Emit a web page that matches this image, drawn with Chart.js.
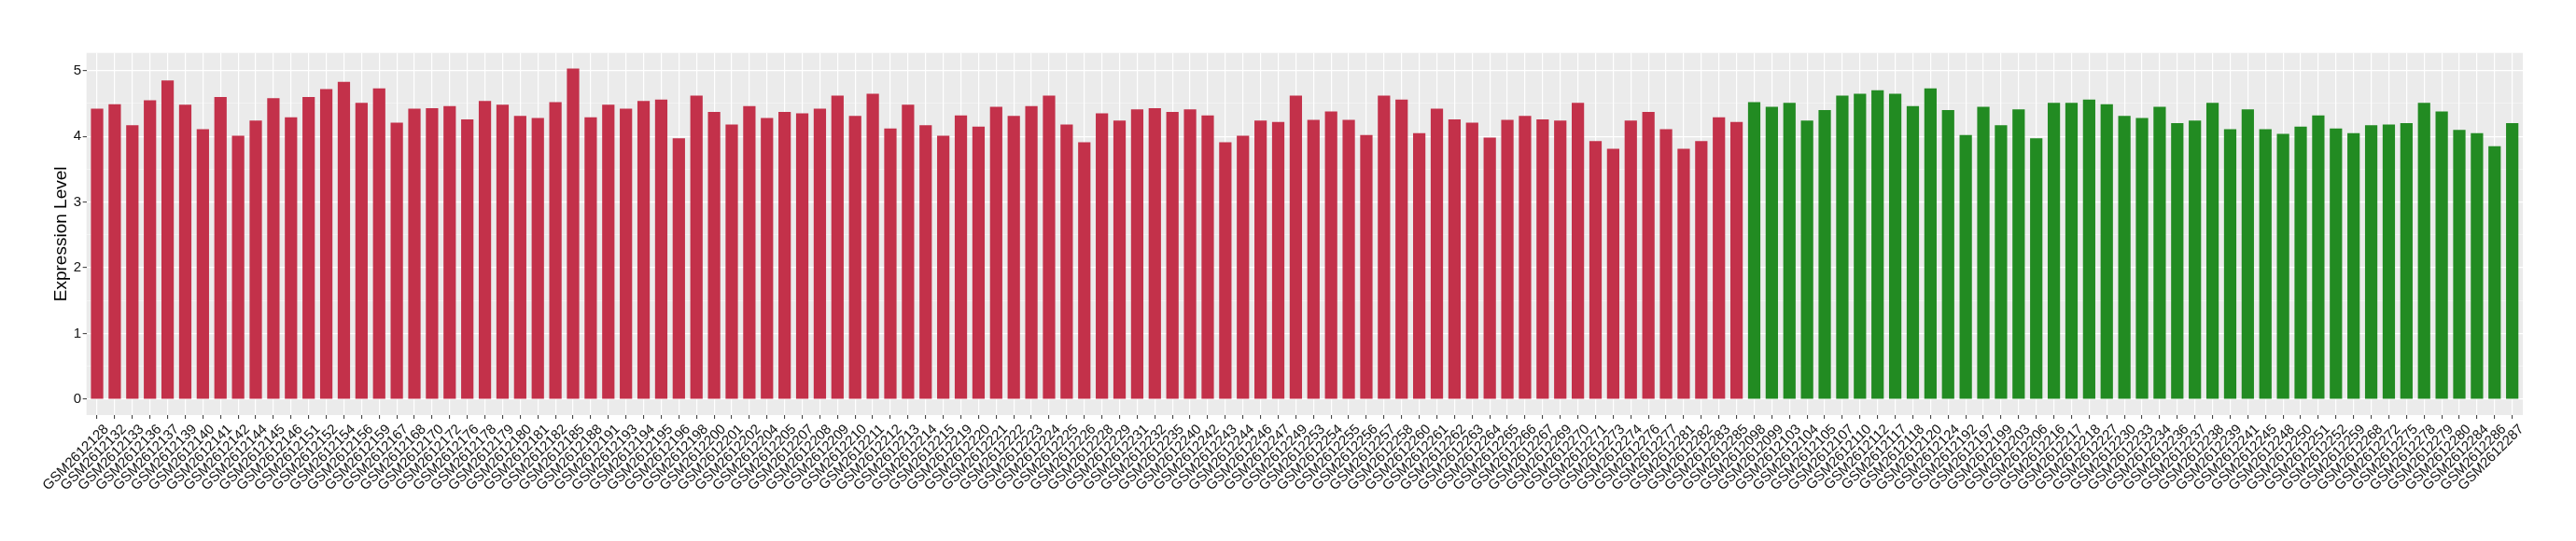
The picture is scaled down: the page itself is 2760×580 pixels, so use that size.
<!DOCTYPE html>
<html>
<head>
<meta charset="utf-8">
<script src="https://cdn.jsdelivr.net/npm/chart.js@4.4.1/dist/chart.umd.min.js"></script>
<style>
  html, body { margin: 0; padding: 0; background: #fff; }
  #wrap { width: 2760px; height: 580px; }
</style>
</head>
<body>
<div id="wrap"><canvas id="exprChart"></canvas></div>
<script>
/* ---- data ---- */
const redLabels = [
  'GSM2612128','GSM2612132','GSM2612133','GSM2612136','GSM2612137','GSM2612139','GSM2612140','GSM2612141','GSM2612142','GSM2612144',
  'GSM2612145','GSM2612146','GSM2612151','GSM2612152','GSM2612154','GSM2612156','GSM2612159','GSM2612167','GSM2612168','GSM2612170',
  'GSM2612172','GSM2612176','GSM2612178','GSM2612179','GSM2612180','GSM2612181','GSM2612182','GSM2612185','GSM2612188','GSM2612191',
  'GSM2612193','GSM2612194','GSM2612195','GSM2612196','GSM2612198','GSM2612200','GSM2612201','GSM2612202','GSM2612204','GSM2612205',
  'GSM2612207','GSM2612208','GSM2612209','GSM2612210','GSM2612211','GSM2612212','GSM2612213','GSM2612214','GSM2612215','GSM2612219',
  'GSM2612220','GSM2612221','GSM2612222','GSM2612223','GSM2612224','GSM2612225','GSM2612226','GSM2612228','GSM2612229','GSM2612231',
  'GSM2612232','GSM2612235','GSM2612240','GSM2612242','GSM2612243','GSM2612244','GSM2612246','GSM2612247','GSM2612249','GSM2612253',
  'GSM2612254','GSM2612255','GSM2612256','GSM2612257','GSM2612258','GSM2612260','GSM2612261','GSM2612262','GSM2612263','GSM2612264',
  'GSM2612265','GSM2612266','GSM2612267','GSM2612269','GSM2612270','GSM2612271','GSM2612273','GSM2612274','GSM2612276','GSM2612277',
  'GSM2612281','GSM2612282','GSM2612283','GSM2612285'
];
const redValues = [
  4.42,4.49,4.17,4.55,4.85,4.48,4.11,4.60,4.01,4.24,
  4.58,4.29,4.60,4.72,4.83,4.51,4.73,4.21,4.42,4.43,
  4.46,4.26,4.54,4.48,4.31,4.28,4.52,5.03,4.29,4.48,
  4.42,4.54,4.56,3.97,4.62,4.37,4.18,4.46,4.28,4.37,
  4.35,4.42,4.62,4.31,4.65,4.12,4.48,4.17,4.01,4.32,
  4.15,4.45,4.31,4.46,4.62,4.18,3.91,4.35,4.24,4.41,
  4.43,4.37,4.41,4.32,3.91,4.01,4.24,4.22,4.62,4.25,
  4.38,4.25,4.02,4.62,4.56,4.05,4.42,4.26,4.21,3.98,
  4.25,4.31,4.26,4.24,4.51,3.93,3.81,4.24,4.37,4.11,
  3.81,3.93,4.29,4.22
];
const greenLabels = [
  'GSM2612098','GSM2612099','GSM2612103','GSM2612104','GSM2612105','GSM2612107','GSM2612110','GSM2612112','GSM2612117','GSM2612118',
  'GSM2612120','GSM2612124','GSM2612192','GSM2612197','GSM2612199','GSM2612203','GSM2612206','GSM2612216','GSM2612217','GSM2612218',
  'GSM2612227','GSM2612230','GSM2612233','GSM2612234','GSM2612236','GSM2612237','GSM2612238','GSM2612239','GSM2612241','GSM2612245',
  'GSM2612248','GSM2612250','GSM2612251','GSM2612252','GSM2612259','GSM2612268','GSM2612272','GSM2612275','GSM2612278','GSM2612279',
  'GSM2612280','GSM2612284','GSM2612286','GSM2612287'
];
const greenValues = [
  4.52,4.45,4.51,4.24,4.40,4.62,4.65,4.70,4.65,4.46,
  4.73,4.40,4.02,4.45,4.17,4.41,3.97,4.51,4.51,4.56,
  4.49,4.31,4.28,4.45,4.20,4.24,4.51,4.11,4.41,4.11,
  4.04,4.15,4.32,4.12,4.05,4.17,4.18,4.20,4.51,4.38,
  4.10,4.05,3.85,4.20
];
const yTickLabels = [0, 1, 2, 3, 4, 5];

/* ---- build ---- */
const RED = '#C3314A';
const GREEN = '#228B22';
const allLabels = redLabels.concat(greenLabels);
const allValues = redValues.concat(greenValues);
const barColors = allLabels.map((_, i) => (i < redLabels.length ? RED : GREEN));
const points = allValues.map((v, i) => ({ x: i, y: v }));

const FONT = "'Liberation Sans', Arial, Helvetica, sans-serif";
const TEXT = '#111111';

// パネル背景（ggplot風グレー）
const panelBg = {
  id: 'panelBg',
  beforeDraw(chart) {
    const a = chart.chartArea;
    const ctx = chart.ctx;
    ctx.save();
    ctx.fillStyle = '#EBEBEB';
    ctx.fillRect(a.left, a.top, a.right - a.left, a.bottom - a.top);
    ctx.restore();
  }
};

const ctx = document.getElementById('exprChart').getContext('2d');
new Chart(ctx, {
  type: 'bar',
  data: {
    datasets: [{
      data: points,
      backgroundColor: barColors,
      borderWidth: 0,
      barPercentage: 0.7,
      categoryPercentage: 1.0
    }]
  },
  options: {
    responsive: true,
    maintainAspectRatio: false,
    animation: false,
    layout: { padding: { top: 56.7, right: 57, left: 0, bottom: 0 } },
    plugins: {
      legend: { display: false },
      tooltip: { enabled: false }
    },
    scales: {
      x: {
        type: 'linear',
        offset: false,
        min: -0.6,
        max: allLabels.length - 1 + 0.6,
        afterBuildTicks(axis) {
          axis.ticks = allLabels.map((_, i) => ({ value: i }));
        },
        afterFit(axis) { axis.height = 135; },
        border: { display: false },
        grid: {
          offset: false,
          color: '#FFFFFF',
          lineWidth: 1.2,
          drawTicks: true,
          tickLength: 4,
          tickColor: '#333333',
          tickWidth: 1
        },
        ticks: {
          autoSkip: false,
          maxRotation: 45,
          minRotation: 45,
          padding: 2.5,
          labelOffset: 10,
          color: TEXT,
          font: { family: FONT, size: 15 },
          callback: (v) => allLabels[v] ?? ''
        }
      },
      y: {
        min: -0.24,
        max: 5.27,
        afterBuildTicks(axis) {
          const t = [];
          yTickLabels.forEach((v, i) => {
            t.push({ value: v });
            if (i < yTickLabels.length - 1) t.push({ value: v + 0.5 });
          });
          axis.ticks = t;
        },
        afterFit(axis) { axis.width = 92.7; },
        border: { display: false },
        grid: {
          color: (c) => (c.tick && c.tick.value % 1 === 0 ? '#FFFFFF' : 'rgba(255,255,255,0.6)'),
          lineWidth: (c) => (c.tick && c.tick.value % 1 === 0 ? 1.3 : 0.7),
          drawTicks: true,
          tickLength: 4,
          tickColor: (c) => (c.tick && c.tick.value % 1 === 0 ? '#333333' : 'rgba(0,0,0,0)'),
          tickWidth: 1
        },
        ticks: {
          padding: 1.5,
          color: TEXT,
          font: { family: FONT, size: 15 },
          callback: (v) => (v % 1 === 0 ? String(v) : '')
        },
        title: {
          display: true,
          text: 'Expression Level',
          color: '#000000',
          font: { family: FONT, size: 19 },
          padding: { top: 54.5, bottom: 0 }
        }
      }
    }
  },
  plugins: [panelBg]
});
</script>
</body>
</html>
